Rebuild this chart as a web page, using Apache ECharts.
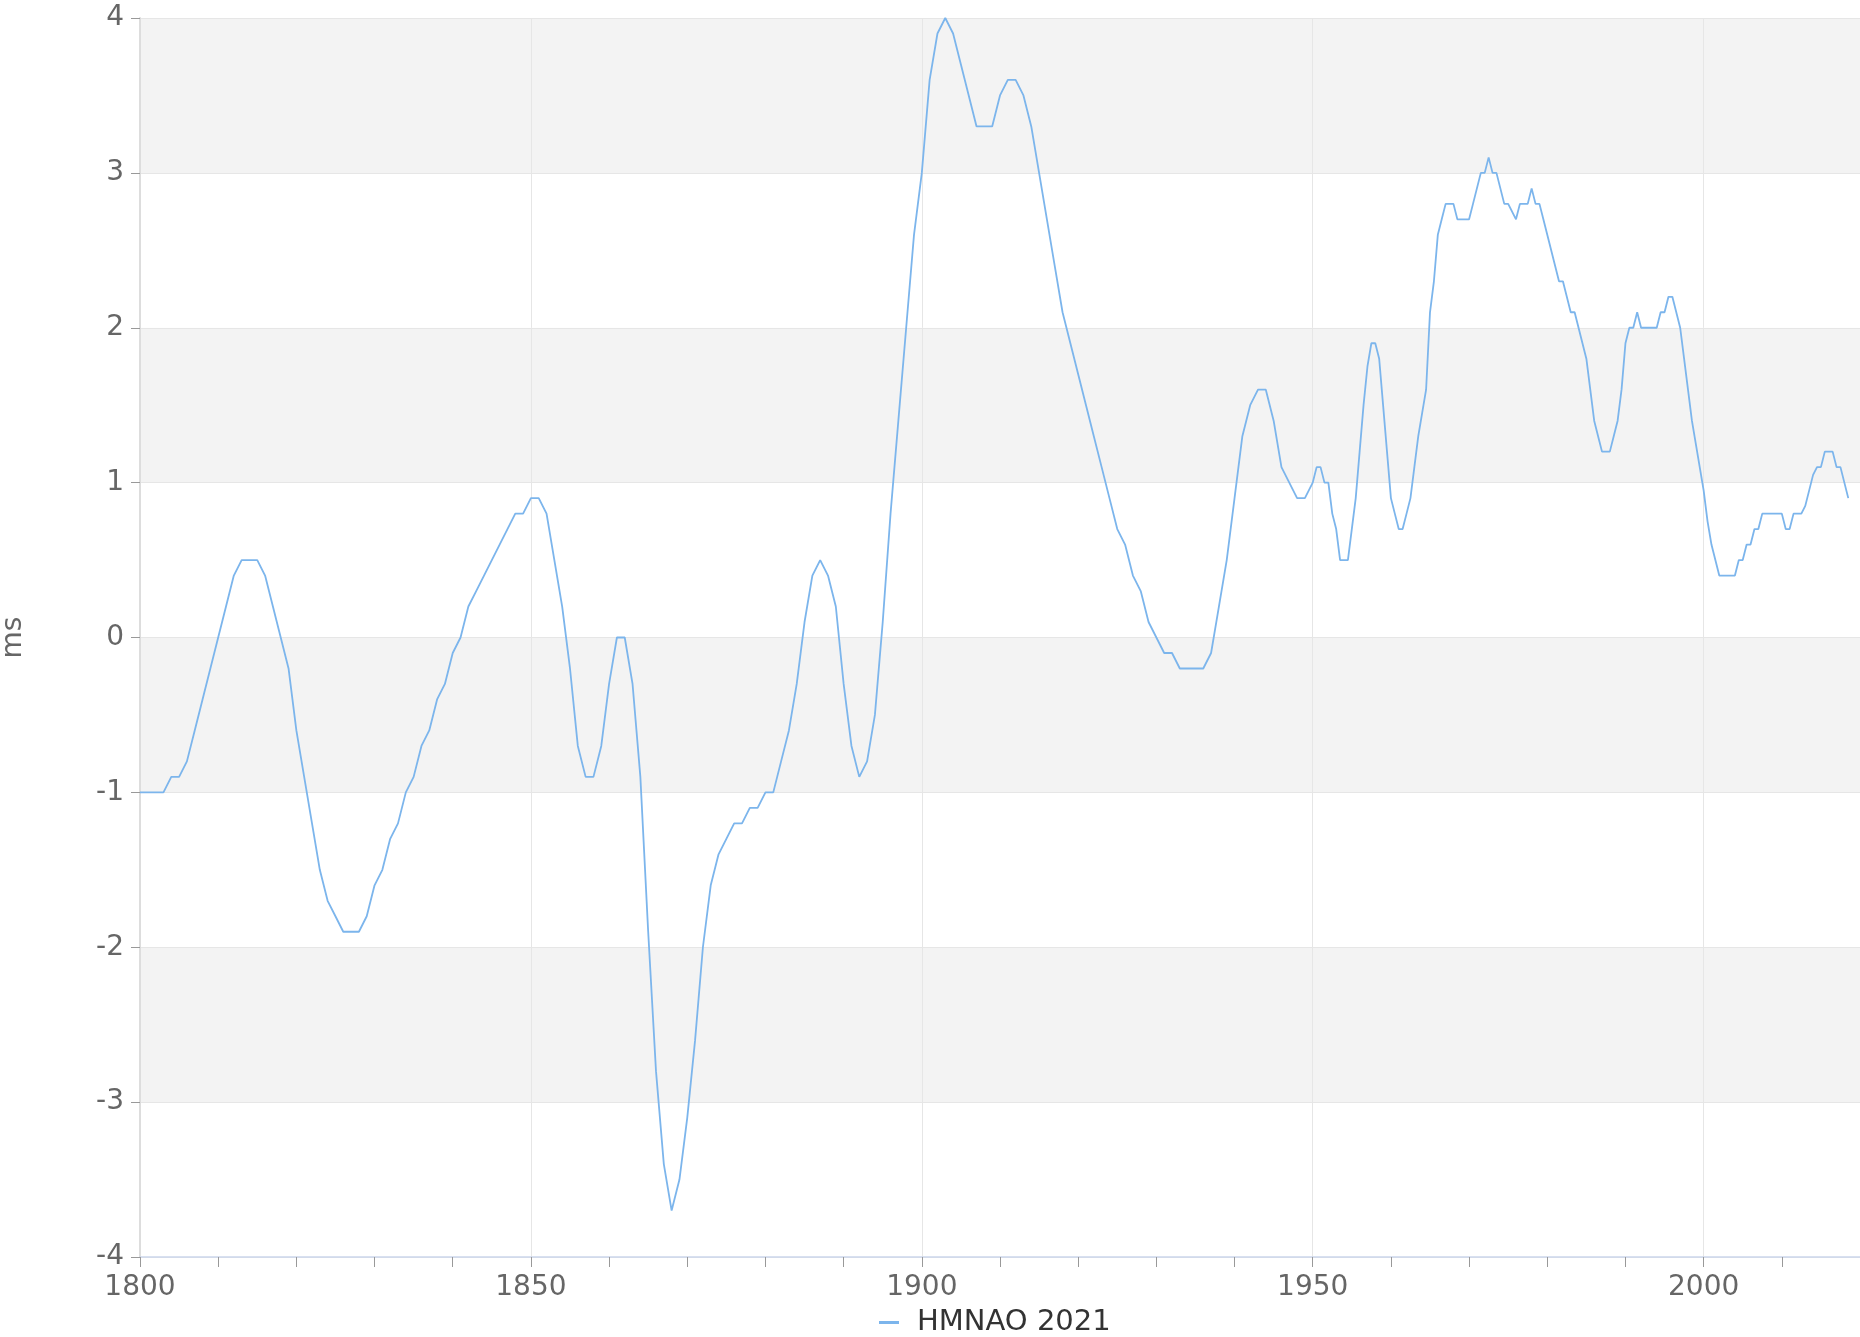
<!DOCTYPE html>
<html>
<head>
<meta charset="utf-8">
<script src="https://cdn.jsdelivr.net/npm/echarts@6/dist/echarts.min.js"></script>
<style>
  html, body { margin: 0; padding: 0; background: #fff; }
  #chart { width: 1860px; height: 1337px; }
</style>
</head>
<body>
<div id="chart"></div>
<script>
const seriesName = 'HMNAO 2021';
const yAxisName = 'ms';

// yearly readings, 1800 .. 1950
const yearlyStart = 1800;
const yearlyValues = [
  -1.0, -1.0, -1.0, -1.0, -0.9, -0.9, -0.8, -0.6, -0.4, -0.2,
  0.0, 0.2, 0.4, 0.5, 0.5, 0.5, 0.4, 0.2, 0.0, -0.2,
  -0.6, -0.9, -1.2, -1.5, -1.7, -1.8, -1.9, -1.9, -1.9, -1.8,
  -1.6, -1.5, -1.3, -1.2, -1.0, -0.9, -0.7, -0.6, -0.4, -0.3,
  -0.1, 0.0, 0.2, 0.3, 0.4, 0.5, 0.6, 0.7, 0.8, 0.8,
  0.9, 0.9, 0.8, 0.5, 0.2, -0.2, -0.7, -0.9, -0.9, -0.7,
  -0.3, 0.0, 0.0, -0.3, -0.9, -1.9, -2.8, -3.4, -3.7, -3.5,
  -3.1, -2.6, -2.0, -1.6, -1.4, -1.3, -1.2, -1.2, -1.1, -1.1,
  -1.0, -1.0, -0.8, -0.6, -0.3, 0.1, 0.4, 0.5, 0.4, 0.2,
  -0.3, -0.7, -0.9, -0.8, -0.5, 0.1, 0.8, 1.4, 2.0, 2.6,
  3.0, 3.6, 3.9, 4.0, 3.9, 3.7, 3.5, 3.3, 3.3, 3.3,
  3.5, 3.6, 3.6, 3.5, 3.3, 3.0, 2.7, 2.4, 2.1, 1.9,
  1.7, 1.5, 1.3, 1.1, 0.9, 0.7, 0.6, 0.4, 0.3, 0.1,
  0.0, -0.1, -0.1, -0.2, -0.2, -0.2, -0.2, -0.1, 0.2, 0.5,
  0.9, 1.3, 1.5, 1.6, 1.6, 1.4, 1.1, 1.0, 0.9, 0.9,
  1.0
];

// half-yearly readings, 1950.5 .. 2018.5
const halfYearStart = 1950.5;
const halfYearValues = [
  1.1,
  1.1, 1.0,   1.0, 0.8,   0.7, 0.5,   0.5, 0.5,   0.7, 0.9,
  1.2, 1.5,   1.75, 1.9,  1.9, 1.8,   1.5, 1.2,   0.9, 0.8,
  0.7, 0.7,   0.8, 0.9,   1.1, 1.3,   1.45, 1.6,  2.1, 2.3,
  2.6, 2.7,   2.8, 2.8,   2.8, 2.7,   2.7, 2.7,   2.7, 2.8,
  2.9, 3.0,   3.0, 3.1,   3.0, 3.0,   2.9, 2.8,   2.8, 2.75,
  2.7, 2.8,   2.8, 2.8,   2.9, 2.8,   2.8, 2.7,   2.6, 2.5,
  2.4, 2.3,   2.3, 2.2,   2.1, 2.1,   2.0, 1.9,   1.8, 1.6,
  1.4, 1.3,   1.2, 1.2,   1.2, 1.3,   1.4, 1.6,   1.9, 2.0,
  2.0, 2.1,   2.0, 2.0,   2.0, 2.0,   2.0, 2.1,   2.1, 2.2,
  2.2, 2.1,   2.0, 1.8,   1.6, 1.4,   1.25, 1.1,  0.95, 0.75,
  0.6, 0.5,   0.4, 0.4,   0.4, 0.4,   0.4, 0.5,   0.5, 0.6,
  0.6, 0.7,   0.7, 0.8,   0.8, 0.8,   0.8, 0.8,   0.8, 0.7,
  0.7, 0.8,   0.8, 0.8,   0.85, 0.95, 1.05, 1.1,  1.1, 1.2,
  1.2, 1.2,   1.1, 1.1,   1.0, 0.9
];

const xLabelStep = 50;

const seriesData = [];
yearlyValues.forEach((v, i) => seriesData.push([yearlyStart + i, v]));
halfYearValues.forEach((v, i) => seriesData.push([halfYearStart + i * 0.5, v]));

const fontFamily = '"DejaVu Sans", Verdana, sans-serif';

const chart = echarts.init(document.getElementById('chart'));

chart.setOption({
  animation: false,
  grid: { left: 140, right: 0, top: 18, bottom: 80, outerBoundsMode: 'none', containLabel: false },
  legend: {
    left: 874,
    top: 1303,
    icon: 'path://M0,0 L20,0 L20,3 L0,3 Z',
    itemWidth: 22,
    itemHeight: 3,
    textStyle: { color: '#333', fontSize: 29, fontFamily: fontFamily, padding: [0, 0, 0, 12] },
    data: [seriesName]
  },
  xAxis: [
    {
      type: 'value',
      min: 1800,
      max: 2020,
      interval: 10,
      axisLine: { show: true, onZero: false, lineStyle: { color: '#ccd6eb', width: 1.5 } },
      axisTick: { show: true, length: 10, lineStyle: { color: '#999' } },
      axisLabel: {
        color: '#666',
        fontSize: 28,
        fontFamily: fontFamily,
        margin: 17,
        formatter: (v) => (v % xLabelStep === 0 ? String(v) : '')
      },
      splitLine: { show: false }
    },
    {
      type: 'value',
      min: 1800,
      max: 2020,
      interval: xLabelStep,
      axisLine: { show: false, onZero: false },
      axisTick: { show: false },
      axisLabel: { show: false },
      splitLine: { show: true, lineStyle: { color: '#e6e6e6', width: 1 } }
    }
  ],
  yAxis: {
    type: 'value',
    min: -4,
    max: 4,
    interval: 1,
    name: yAxisName,
    nameLocation: 'middle',
    nameRotate: 90,
    nameGap: 112,
    nameTextStyle: { color: '#666', fontSize: 28, fontFamily: fontFamily },
    axisLine: { show: true, onZero: false, lineStyle: { color: '#ddd', width: 2 } },
    axisTick: { show: true, length: 9, lineStyle: { color: '#999' } },
    axisLabel: { color: '#666', fontSize: 28, fontFamily: fontFamily, margin: 16 },
    splitLine: { show: true, lineStyle: { color: '#e6e6e6', width: 1 } },
    splitArea: { show: true, areaStyle: { color: ['#ffffff', '#f3f3f3'] } }
  },
  series: [
    {
      name: seriesName,
      type: 'line',
      xAxisIndex: 0,
      data: seriesData,
      symbol: 'none',
      smooth: false,
      color: '#7cb5ec',
      lineStyle: { color: '#7cb5ec', width: 1.8 }
    }
  ]
});
</script>
</body>
</html>
